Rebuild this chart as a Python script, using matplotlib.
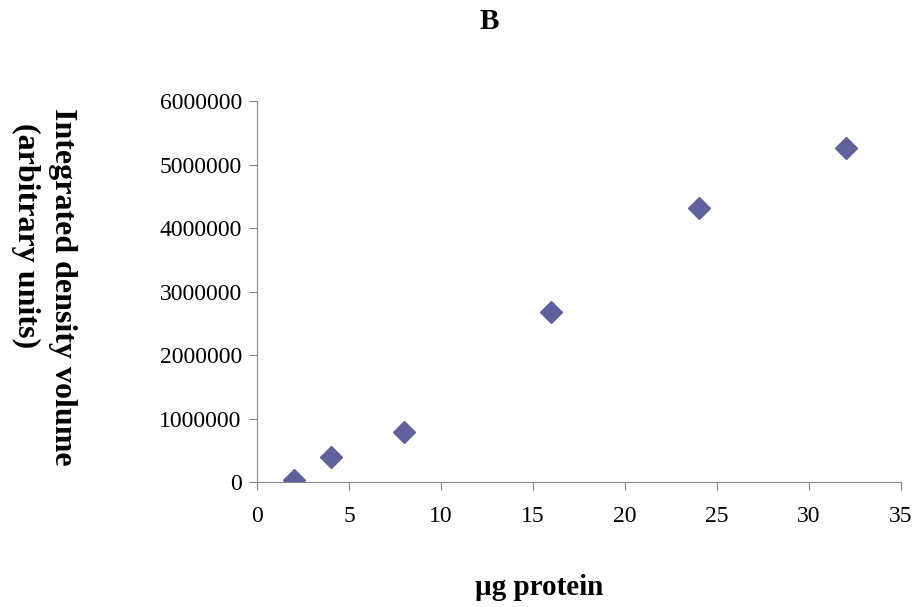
import matplotlib
matplotlib.use('Agg')
import matplotlib.pyplot as plt

protein_ug = [2, 4, 8, 16, 24, 32]
density_volume = [30000, 400000, 780000, 2680000, 4320000, 5260000]

plt.rcParams['font.family'] = 'Liberation Serif'

fig = plt.figure(figsize=(9.17, 6.07), dpi=100)
ax = fig.add_axes([0.2803, 0.2059, 0.7023, 0.6277])

ax.plot(protein_ug, density_volume, linestyle='none', marker='D',
        markersize=11, color='#60609c')

ax.set_xlim(0, 35)
ax.set_ylim(0, 6000000)
ax.set_xticks(range(0, 36, 5))
ax.set_yticks(range(0, 6000001, 1000000))
ax.ticklabel_format(style='plain', axis='y')

for side in ['top', 'right']:
    ax.spines[side].set_visible(False)
for side in ['left', 'bottom']:
    ax.spines[side].set_color('#888888')
ax.tick_params(direction='out', length=6, color='#888888', labelsize=17)
ax.tick_params(axis='y', pad=5)
ax.tick_params(axis='x', pad=11)

fig.text(0.533, 0.964, 'B', ha='center', va='center', fontsize=21, fontweight='bold')
fig.text(0.588, 0.032, 'µg protein', ha='center', va='center', fontsize=21, fontweight='bold')
# y label drawn as two lines, both starting at the top
fig.text(0.068, 0.822, 'Integrated density volume', ha='center', va='top',
         rotation=-90, fontsize=23, fontweight='bold')
fig.text(0.028, 0.797, '(arbitrary units)', ha='center', va='top',
         rotation=-90, fontsize=23, fontweight='bold')

plt.savefig('out.png')
